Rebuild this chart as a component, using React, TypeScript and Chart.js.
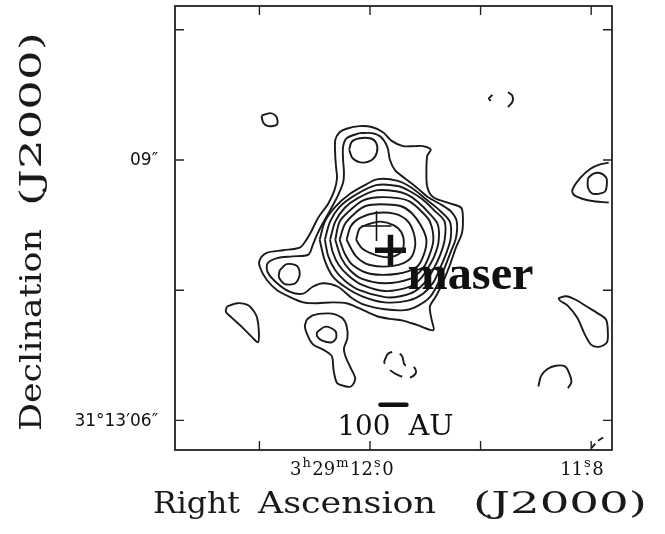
import React, { useEffect, useRef } from "react";
import { Chart, registerables } from "chart.js";

Chart.register(...registerables);

// x: RA offset (arcsec, east positive) from 3h29m12.0s ; y: Dec seconds of arc within 31°13′
const RA_RANGE = [-2.788, 2.2465];
const DEC_RANGE = [5.659, 10.774];
const RA_TICKS = [1.274, 0, -1.274, -2.548]; // 12.1s, 12.0s, 11.9s, 11.8s
const RA_TICK_LABELS = ["", "3^h29^m12^s0", "", "11^s8"];
const DEC_TICKS = [10.5, 9, 7.5, 6];
const DEC_TICK_LABELS = ["", "09″", "", "31°13′06″"];

// ---- contour levels (outermost to innermost) ----
const LEVEL1 = [[0.40,9.03],[0.40,9.23],[0.35,9.32],[0.27,9.36],[0.12,9.39],[-0.02,9.38],[-0.15,9.32],[-0.25,9.22],[-0.38,9.16],[-0.52,9.16],[-0.61,9.16],[-0.70,9.12],[-0.66,9.05],[-0.65,8.88],[-0.66,8.69],[-0.73,8.57],[-0.92,8.50],[-1.05,8.45],[-1.07,8.34],[-1.06,8.16],[-0.99,7.99],[-0.92,7.79],[-0.84,7.59],[-0.76,7.43],[-0.69,7.31],[-0.71,7.16],[-0.73,7.04],[-0.54,7.10],[-0.38,7.15],[-0.23,7.17],[-0.08,7.20],[0.12,7.29],[0.27,7.35],[0.43,7.36],[0.61,7.35],[0.77,7.36],[0.92,7.42],[1.07,7.50],[1.19,7.62],[1.27,7.77],[1.27,7.85],[1.19,7.93],[1.00,7.96],[0.81,7.99],[0.74,8.07],[0.67,8.19],[0.60,8.33],[0.48,8.50],[0.41,8.65],[0.38,8.79],[0.39,8.91]];
const LEVEL2 = [[0.12,9.31],[-0.02,9.31],[-0.12,9.27],[-0.20,9.15],[-0.23,9.00],[-0.29,8.88],[-0.40,8.79],[-0.53,8.69],[-0.67,8.57],[-0.83,8.48],[-0.94,8.40],[-1.00,8.29],[-0.99,8.10],[-0.93,7.94],[-0.86,7.76],[-0.78,7.57],[-0.69,7.42],[-0.55,7.32],[-0.40,7.27],[-0.17,7.28],[0.06,7.33],[0.21,7.41],[0.37,7.54],[0.54,7.58],[0.66,7.54],[0.77,7.46],[0.92,7.48],[1.07,7.58],[1.18,7.71],[1.18,7.81],[1.07,7.87],[0.89,7.89],[0.71,7.91],[0.66,8.02],[0.61,8.14],[0.55,8.26],[0.46,8.42],[0.37,8.59],[0.31,8.74],[0.30,8.86],[0.31,9.00],[0.31,9.15],[0.27,9.25]];
const LEVEL3 = [[0.58,8.08],[0.52,8.29],[0.40,8.46],[0.23,8.61],[0.06,8.71],[-0.09,8.78],[-0.32,8.76],[-0.48,8.68],[-0.63,8.56],[-0.78,8.44],[-0.92,8.29],[-0.93,8.10],[-0.88,7.93],[-0.81,7.76],[-0.73,7.59],[-0.61,7.46],[-0.44,7.38],[-0.17,7.36],[0.09,7.43],[0.29,7.54],[0.43,7.66],[0.52,7.84]];
const LEVEL4 = [[0.52,8.08],[0.46,8.29],[0.35,8.46],[0.18,8.59],[-0.07,8.71],[-0.32,8.70],[-0.46,8.64],[-0.60,8.55],[-0.74,8.42],[-0.86,8.29],[-0.86,8.08],[-0.81,7.91],[-0.74,7.76],[-0.65,7.61],[-0.52,7.49],[-0.35,7.43],[-0.17,7.42],[0.12,7.50],[0.29,7.61],[0.40,7.73],[0.48,7.89]];
const LEVEL5 = [[0.46,8.08],[0.40,8.29],[0.29,8.45],[0.14,8.56],[-0.07,8.65],[-0.30,8.64],[-0.43,8.60],[-0.55,8.52],[-0.67,8.40],[-0.78,8.26],[-0.79,8.06],[-0.74,7.89],[-0.67,7.76],[-0.58,7.63],[-0.46,7.54],[-0.17,7.49],[0.09,7.56],[0.24,7.66],[0.36,7.79],[0.43,7.94]];
const LEVEL6 = [[0.40,8.08],[0.35,8.29],[0.23,8.42],[0.09,8.53],[-0.09,8.57],[-0.32,8.56],[-0.46,8.52],[-0.59,8.41],[-0.69,8.29],[-0.73,8.08],[-0.68,7.89],[-0.60,7.74],[-0.46,7.63],[-0.17,7.58],[0.09,7.63],[0.23,7.73],[0.33,7.87]];
const LEVEL7 = [[0.35,8.08],[0.29,8.26],[0.17,8.39],[0.05,8.47],[-0.12,8.49],[-0.35,8.47],[-0.48,8.39],[-0.59,8.24],[-0.65,8.08],[-0.62,7.91],[-0.54,7.77],[-0.32,7.69],[0,7.69],[0.20,7.79],[0.29,7.92]];
const LEVEL8 = [[0.27,8.08],[0.22,8.24],[0.12,8.33],[-0.06,8.39],[-0.29,8.38],[-0.43,8.30],[-0.50,8.17],[-0.52,8.01],[-0.46,7.86],[-0.27,7.78],[0,7.79],[0.16,7.89]];
const LEVEL9 = [[0.16,8.08],[0.12,8.21],[0.02,8.26],[-0.12,8.29],[-0.27,8.25],[-0.36,8.17],[-0.39,8.04],[-0.35,7.93],[-0.21,7.88],[-0.05,7.91],[0.09,7.98]];

// ---- secondary peaks and isolated islands ----
const NORTH_PEAK = [[0.24,9.12],[0.21,9.21],[0.12,9.25],[0,9.25],[-0.07,9.20],[-0.08,9.09],[-0.02,9.00],[0.09,8.97],[0.20,9.02]];
const WEST_PEAK = [[1.04,7.73],[0.96,7.80],[0.84,7.78],[0.81,7.68],[0.86,7.58],[0.98,7.57],[1.05,7.65]];
const NW_ISLAND = [[1.25,9.51],[1.15,9.54],[1.08,9.50],[1.07,9.41],[1.17,9.39],[1.23,9.43]];
const EAST_EDGE_OUTER = [[-2.75,8.97],[-2.65,8.95],[-2.54,8.90],[-2.42,8.79],[-2.33,8.65],[-2.36,8.59],[-2.54,8.53],[-2.75,8.51]];
const EAST_EDGE_INNER = [[-2.51,8.79],[-2.57,8.84],[-2.65,8.85],[-2.72,8.80],[-2.73,8.74],[-2.71,8.64],[-2.63,8.61],[-2.55,8.62],[-2.51,8.69]];
const EAST_MID = [[-2.17,7.41],[-2.26,7.43],[-2.37,7.39],[-2.50,7.31],[-2.63,7.23],[-2.72,7.16],[-2.74,7.02],[-2.73,6.90],[-2.65,6.85],[-2.55,6.87],[-2.47,7.00],[-2.39,7.18],[-2.28,7.32],[-2.19,7.38]];
const SE_ARC = [[-1.94,6.39],[-1.97,6.51],[-2.04,6.59],[-2.14,6.63],[-2.25,6.62],[-2.30,6.53],[-2.32,6.44],[-2.28,6.37]];
const SW_ISLAND = [[1.65,7.31],[1.53,7.35],[1.41,7.33],[1.34,7.26],[1.30,7.18],[1.28,7.02],[1.29,6.90],[1.36,6.96],[1.48,7.08],[1.60,7.19],[1.66,7.25]];
const S_ISLAND_OUTER = [[0.73,7.16],[0.66,7.21],[0.55,7.23],[0.44,7.23],[0.32,7.18],[0.27,7.09],[0.26,6.95],[0.30,6.83],[0.28,6.73],[0.22,6.60],[0.17,6.48],[0.22,6.39],[0.31,6.40],[0.38,6.43],[0.42,6.58],[0.44,6.74],[0.53,6.81],[0.65,6.87],[0.71,6.96],[0.75,7.08]];
const S_ISLAND_INNER = [[0.61,7.02],[0.51,7.08],[0.40,7.03],[0.39,6.95],[0.44,6.90],[0.55,6.92],[0.61,6.97]];

// ---- negative (dashed) contours ----
const NEG_SOUTH = [[-0.16,6.67],[-0.21,6.77],[-0.30,6.79],[-0.37,6.74],[-0.40,6.64],[-0.50,6.62],[-0.53,6.55],[-0.45,6.49],[-0.33,6.52],[-0.23,6.58]];
const NEG_NE_LEFT = [[-1.41,9.75],[-1.37,9.71],[-1.39,9.68]];
const NEG_NE_RIGHT = [[-1.59,9.78],[-1.64,9.74],[-1.64,9.67],[-1.59,9.61]];
const NEG_SE_CORNER = [[-2.55,5.68],[-2.62,5.76],[-2.71,5.82]];

// ---- markers ----
const CONTINUUM_PEAK = [-0.075, 8.24];
const MASER_POS = [-0.236, 7.96];
const SCALE_BAR_X = [-0.12, -0.42]; // 100 AU
const SCALE_BAR_Y = 6.18;

const INK = "#1a1a1a";

const closed = (p: number[][]) => [...p, p[0]];
const line = (p: number[][], extra: any = {}) => ({
  data: p.map(([x, y]) => ({ x, y })),
  showLine: true,
  pointRadius: 0,
  borderColor: INK,
  borderWidth: 1.9,
  tension: 0.3,
  fill: false,
  ...extra,
});

function fitText(ctx: CanvasRenderingContext2D, text: string, x: number, y: number, width: number, font: string) {
  ctx.save();
  ctx.font = font;
  const w = ctx.measureText(text).width;
  ctx.translate(x, y);
  ctx.scale(width / w, 1);
  ctx.textAlign = "left";
  ctx.textBaseline = "alphabetic";
  ctx.fillText(text, 0, 0);
  ctx.restore();
}

function drawRaLabel(ctx: CanvasRenderingContext2D, spec: string, x: number, baseline: number) {
  const base = '18px "DejaVu Serif"';
  const sup = '13px "DejaVu Serif"';
  let cx = x;
  let i = 0;
  ctx.textAlign = "left";
  ctx.textBaseline = "alphabetic";
  while (i < spec.length) {
    if (spec[i] === "^") {
      const ch = spec[i + 1];
      ctx.font = sup;
      const w = ctx.measureText(ch).width;
      ctx.fillText(ch, cx, baseline - 8);
      if (ch === "s") {
        ctx.font = base;
        const dw = ctx.measureText(".").width;
        ctx.fillText(".", cx + w / 2 - dw / 2, baseline);
      }
      cx += w + 1.5;
      i += 2;
    } else {
      let j = i;
      while (j < spec.length && spec[j] !== "^") j++;
      const t = spec.slice(i, j);
      ctx.font = base;
      ctx.fillText(t, cx, baseline);
      cx += ctx.measureText(t).width + 1;
      i = j;
    }
  }
}

const overlay = {
  id: "overlay",
  afterDatasetsDraw(chart: any) {
    const { ctx, chartArea: a, scales } = chart;
    const xs = scales.x;
    const ys = scales.y;
    ctx.save();
    ctx.strokeStyle = "#222";
    ctx.lineWidth = 1.8;
    ctx.strokeRect(a.left, a.top, a.right - a.left, a.bottom - a.top);
    ctx.lineWidth = 1.4;
    ctx.beginPath();
    RA_TICKS.forEach((v) => {
      const px = xs.getPixelForValue(v);
      ctx.moveTo(px, a.top);
      ctx.lineTo(px, a.top + 9);
      ctx.moveTo(px, a.bottom);
      ctx.lineTo(px, a.bottom - 9);
    });
    DEC_TICKS.forEach((v) => {
      const py = ys.getPixelForValue(v);
      ctx.moveTo(a.left, py);
      ctx.lineTo(a.left + 9, py);
      ctx.moveTo(a.right, py);
      ctx.lineTo(a.right - 9, py);
    });
    ctx.stroke();

    ctx.fillStyle = "#111";
    // Dec tick labels
    ctx.font = '17px "DejaVu Sans"';
    ctx.textAlign = "right";
    ctx.textBaseline = "middle";
    DEC_TICKS.forEach((v, k) => {
      if (!DEC_TICK_LABELS[k]) return;
      ctx.fillText(DEC_TICK_LABELS[k], a.left - 17, ys.getPixelForValue(v) + 1);
    });
    // RA tick labels
    RA_TICKS.forEach((v, k) => {
      const spec = RA_TICK_LABELS[k];
      if (!spec) return;
      const px = xs.getPixelForValue(v);
      const shift = spec.length > 6 ? -80 : -31;
      drawRaLabel(ctx, spec, px + shift, a.bottom + 25);
    });

    // axis titles
    ctx.fillStyle = "#1a1a1a";
    const tf = '30px "DejaVu Serif"';
    fitText(ctx, "Right", 153, 513, 87, tf);
    fitText(ctx, "Ascension", 258, 513, 178, tf);
    fitText(ctx, "(J2000)", 473, 513, 174, tf);
    ctx.save();
    ctx.translate(41, 431);
    ctx.rotate(-Math.PI / 2);
    fitText(ctx, "Declination", 0, 0, 202, tf);
    fitText(ctx, "(J2000)", 225, 0, 174, tf);
    ctx.restore();

    // annotations
    const mx = xs.getPixelForValue(MASER_POS[0]);
    const my = ys.getPixelForValue(MASER_POS[1]);
    ctx.fillStyle = "#111";
    fitText(ctx, "maser", mx + 17, my + 39, 126, 'bold 49px "Liberation Serif"');
    const bx = (xs.getPixelForValue(SCALE_BAR_X[0]) + xs.getPixelForValue(SCALE_BAR_X[1])) / 2;
    const by = ys.getPixelForValue(SCALE_BAR_Y);
    fitText(ctx, "100", bx - 56, by + 30, 53, '28px "DejaVu Serif"');
    fitText(ctx, "AU", bx + 15, by + 30, 45, '28px "DejaVu Serif"');
    ctx.restore();
  },
};

export default function App() {
  const ref = useRef<HTMLCanvasElement>(null);
  useEffect(() => {
    const datasets: any[] = [
      line(closed(LEVEL1)),
      line(closed(LEVEL2)),
      line(closed(LEVEL3)),
      line(closed(LEVEL4)),
      line(closed(LEVEL5)),
      line(closed(LEVEL6)),
      line(closed(LEVEL7)),
      line(closed(LEVEL8)),
      line(closed(LEVEL9)),
      line(closed(NORTH_PEAK)),
      line(closed(WEST_PEAK)),
      line(closed(NW_ISLAND)),
      line(EAST_EDGE_OUTER),
      line(closed(EAST_EDGE_INNER)),
      line(closed(EAST_MID)),
      line(SE_ARC),
      line(closed(SW_ISLAND)),
      line(closed(S_ISLAND_OUTER)),
      line(closed(S_ISLAND_INNER)),
      line(closed(NEG_SOUTH), { borderDash: [14, 8] }),
      line(NEG_NE_LEFT),
      line(NEG_NE_RIGHT),
      line(NEG_SE_CORNER, { borderDash: [6, 4], tension: 0 }),
      {
        data: [{ x: SCALE_BAR_X[0], y: SCALE_BAR_Y }, { x: SCALE_BAR_X[1], y: SCALE_BAR_Y }],
        showLine: true,
        pointRadius: 0,
        borderColor: "#111",
        borderWidth: 4.5,
        borderCapStyle: "round",
        tension: 0,
      },
      {
        data: [{ x: CONTINUUM_PEAK[0], y: CONTINUUM_PEAK[1] }],
        pointStyle: "cross",
        pointRadius: 15,
        pointBorderWidth: 1.6,
        pointBorderColor: "#111",
        showLine: false,
      },
      {
        data: [{ x: MASER_POS[0], y: MASER_POS[1] }],
        pointStyle: "cross",
        pointRadius: 15.5,
        pointBorderWidth: 5.5,
        pointBorderColor: "#111",
        showLine: false,
      },
    ];
    const chart = new Chart(ref.current as HTMLCanvasElement, {
      type: "scatter",
      data: { datasets },
      options: {
        animation: false,
        responsive: false,
        maintainAspectRatio: false,
        events: [],
        layout: { autoPadding: false, padding: { left: 175, right: 53, top: 6, bottom: 84 } },
        scales: {
          x: { type: "linear", min: RA_RANGE[0], max: RA_RANGE[1], reverse: true, display: false },
          y: { type: "linear", min: DEC_RANGE[0], max: DEC_RANGE[1], display: false },
        },
        plugins: { legend: { display: false }, tooltip: { enabled: false } },
      },
      plugins: [overlay],
    } as any);
    return () => chart.destroy();
  }, []);
  return (
    <div style={{ position: "fixed", left: 0, top: 0, width: 665, height: 534, background: "#fff" }}>
      <canvas ref={ref} width={665} height={534} style={{ width: 665, height: 534, display: "block" }} />
    </div>
  );
}
